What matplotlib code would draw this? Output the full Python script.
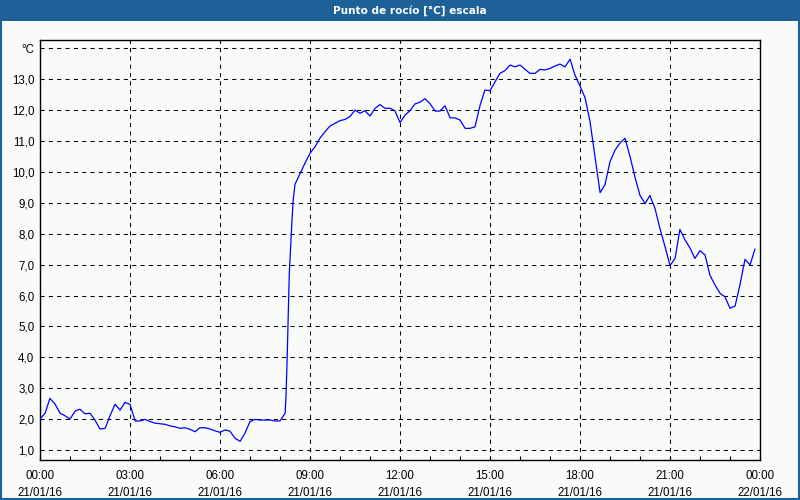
import matplotlib
matplotlib.use("Agg")
import matplotlib.pyplot as plt
from matplotlib.patches import Rectangle
from matplotlib.ticker import MultipleLocator, FixedLocator

# ---- data (hours since 21/01/16 00:00, dew point in °C) ----
hours = [
    0.00, 0.17, 0.33, 0.50, 0.67, 0.83, 1.00, 1.17, 1.33, 1.50, 1.67, 1.83,
    2.00, 2.17, 2.33, 2.50, 2.67, 2.83, 3.00, 3.17, 3.33, 3.50, 3.67, 3.83,
    4.00, 4.17, 4.33, 4.50, 4.67, 4.83, 5.00, 5.17, 5.33, 5.50, 5.67, 5.83,
    6.00, 6.17, 6.33, 6.50, 6.67, 6.83, 7.00, 7.17, 7.33, 7.50, 7.67, 7.83,
    8.00, 8.17, 8.20, 8.24, 8.28, 8.31, 8.36, 8.40, 8.44, 8.50, 8.67, 8.83,
    9.00, 9.17, 9.33, 9.50, 9.67, 9.83, 10.00, 10.17, 10.33, 10.50, 10.67, 10.83,
    11.00, 11.17, 11.33, 11.50, 11.67, 11.83, 12.00, 12.17, 12.33, 12.50, 12.67, 12.83,
    13.00, 13.17, 13.33, 13.50, 13.67, 13.83, 14.00, 14.17, 14.33, 14.50, 14.67, 14.83,
    15.00, 15.17, 15.33, 15.50, 15.67, 15.83, 16.00, 16.17, 16.33, 16.50, 16.67, 16.83,
    17.00, 17.17, 17.33, 17.50, 17.67, 17.83, 18.00, 18.17, 18.33, 18.50, 18.67, 18.83,
    19.00, 19.17, 19.33, 19.50, 19.67, 19.83, 20.00, 20.17, 20.33, 20.50, 20.67, 20.83,
    21.00, 21.17, 21.33, 21.50, 21.67, 21.83, 22.00, 22.17, 22.33, 22.50, 22.67, 22.83,
    23.00, 23.17, 23.33, 23.50, 23.67, 23.83,
]
dew_point = [
    2.00, 2.19, 2.67, 2.49, 2.19, 2.11, 2.00, 2.26, 2.32, 2.17, 2.19, 1.97,
    1.68, 1.70, 2.10, 2.48, 2.29, 2.54, 2.48, 1.94, 1.94, 1.99, 1.92, 1.87,
    1.85, 1.83, 1.78, 1.75, 1.70, 1.72, 1.67, 1.59, 1.72, 1.72, 1.68, 1.62,
    1.57, 1.65, 1.61, 1.38, 1.28, 1.54, 1.92, 1.99, 1.97, 1.97, 1.97, 1.94,
    1.94, 2.19, 2.72, 4.02, 5.53, 6.72, 7.69, 8.44, 9.09, 9.60, 9.95, 10.28,
    10.60, 10.82, 11.09, 11.30, 11.49, 11.57, 11.66, 11.70, 11.79, 12.00, 11.90, 11.98,
    11.81, 12.06, 12.18, 12.06, 12.06, 11.98, 11.60, 11.84, 11.98, 12.20, 12.26, 12.37,
    12.21, 11.97, 11.97, 12.14, 11.75, 11.75, 11.68, 11.41, 11.41, 11.46, 12.16, 12.65,
    12.63, 12.92, 13.19, 13.28, 13.46, 13.40, 13.46, 13.32, 13.19, 13.19, 13.32, 13.30,
    13.35, 13.43, 13.49, 13.40, 13.65, 13.14, 12.78, 12.40, 11.65, 10.50, 9.33, 9.58,
    10.33, 10.71, 10.93, 11.09, 10.49, 9.84, 9.24, 8.97, 9.24, 8.82, 8.15, 7.60,
    6.97, 7.20, 8.14, 7.80, 7.53, 7.20, 7.45, 7.31, 6.66, 6.34, 6.07, 5.96,
    5.59, 5.66, 6.34, 7.17, 6.99, 7.50,
]
x_tick_hours = [0, 3, 6, 9, 12, 15, 18, 21, 24]
x_tick_labels = ["00:00\n21/01/16", "03:00\n21/01/16", "06:00\n21/01/16",
                 "09:00\n21/01/16", "12:00\n21/01/16", "15:00\n21/01/16",
                 "18:00\n21/01/16", "21:00\n21/01/16", "00:00\n22/01/16"]
y_tick_values = [1, 2, 3, 4, 5, 6, 7, 8, 9, 10, 11, 12, 13, 14]
y_tick_labels = ["1,0", "2,0", "3,0", "4,0", "5,0", "6,0", "7,0", "8,0",
                 "9,0", "10,0", "11,0", "12,0", "13,0", "°C"]
title = "Punto de rocío [°C] escala"

W, H = 800, 500
BG = "#F9FBF9"
BAR = "#1D6198"

fig = plt.figure(figsize=(W / 100, H / 100), dpi=100, facecolor=BG)

# title bar and window border
fig.patches.append(Rectangle((0, 1 - 21 / H), 1, 21 / H, transform=fig.transFigure,
                             facecolor=BAR, edgecolor="none", zorder=0))
fig.patches.append(Rectangle((1 / W, 1 / H), 1 - 2 / W, 1 - 2 / H, transform=fig.transFigure,
                             facecolor="none", edgecolor=BAR, linewidth=1.5, zorder=1))
fig.text(410 / W, 1 - 10.5 / H, title, color="white", fontsize=7.6, fontweight="bold",
         family="DejaVu Sans", ha="center", va="center")

ax = fig.add_axes([40 / W, 40 / H, 720 / W, 420 / H], facecolor=BG)
ax.plot(hours, dew_point, color="#0000FF", linewidth=0.9, zorder=3)

ax.set_xlim(0, 24)
ax.set_ylim(0.676, 14.27)

ax.xaxis.set_major_locator(FixedLocator(x_tick_hours))
ax.xaxis.set_minor_locator(MultipleLocator(1))
ax.set_xticklabels(x_tick_labels, fontsize=8.3, family="Liberation Sans", linespacing=1.6)
ax.yaxis.set_major_locator(FixedLocator(y_tick_values))
ax.set_yticklabels(y_tick_labels, fontsize=8.3, family="Liberation Sans")

ax.tick_params(axis="x", which="both", direction="in", length=3, width=0.8,
               pad=7, colors="black", top=False)
ax.tick_params(axis="y", which="both", length=0, pad=4, colors="black")

ax.grid(True, which="major", color="black", linewidth=0.75, linestyle=(0, (4, 4)))
for s in ax.spines.values():
    s.set_linewidth(1.0)
    s.set_color("black")
ax.set_axisbelow(True)

fig.savefig("out.png", dpi=100, facecolor=BG)
